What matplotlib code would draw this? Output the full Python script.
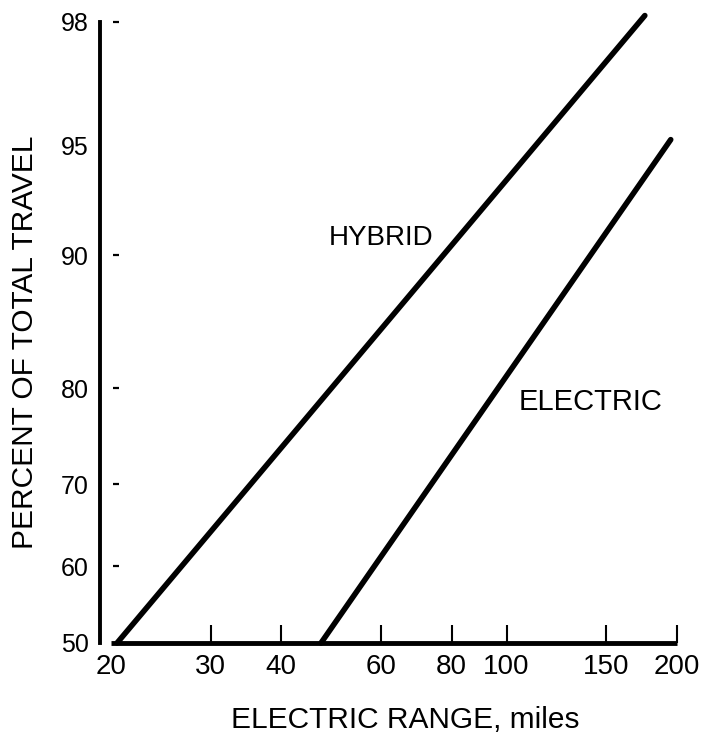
import math
import numpy as np
import matplotlib
matplotlib.use("Agg")
import matplotlib.pyplot as plt
import matplotlib.transforms as mtransforms

plt.rcParams['font.family'] = ['Liberation Sans', 'DejaVu Sans']

# --- data ---
hybrid_range = [20.5, 175.5]
hybrid_pct = [50, 98.1]
electric_range = [47, 195]
electric_pct = [50, 95.2]

x_ticks = [20, 30, 40, 60, 80, 100, 150, 200]
y_ticks = [50, 60, 70, 80, 90, 95, 98]
y_tick_marks = [60, 70, 80, 90, 98]


# --- normal probability scale (no scipy) ---
_erf = np.vectorize(math.erf, otypes=[float])


def cdf_pct(z):
    z = np.asarray(z, dtype=float)
    return 50.0 * (1.0 + _erf(z / math.sqrt(2.0)))


def ppf_pct(p):
    p = np.clip(np.asarray(p, dtype=float), 1e-10, 100 - 1e-10)
    lo = np.full_like(p, -9.0)
    hi = np.full_like(p, 9.0)
    for _ in range(60):
        mid = (lo + hi) / 2
        below = cdf_pct(mid) < p
        lo = np.where(below, mid, lo)
        hi = np.where(below, hi, mid)
    return (lo + hi) / 2


fig = plt.figure(figsize=(7.02, 7.33), dpi=100)
ax = fig.add_axes([0.1581, 0.1228, 0.8396, 0.8651])

ax.set_xscale('log')
ax.set_yscale('function', functions=(ppf_pct, cdf_pct))
ax.set_xlim(20, 220)
ax.set_ylim(50, 98.2)

# --- curves ---
ax.plot(hybrid_range, hybrid_pct, color='black', lw=4,
        solid_capstyle='round', clip_on=False)
ax.plot(electric_range, electric_pct, color='black', lw=4,
        solid_capstyle='round', clip_on=False)

ax.text(60, 91.0, 'HYBRID', fontsize=20, ha='center', va='center')
ax.text(141, 78.7, 'ELECTRIC', fontsize=21, ha='center', va='center')

# --- axes styling ---
for side in ['top', 'right']:
    ax.spines[side].set_visible(False)
ax.spines['bottom'].set_linewidth(3.5)
ax.spines['bottom'].set_bounds(20, 200)
ax.spines['bottom'].set_capstyle('butt')
ax.spines['left'].set_linewidth(2.8)
ax.spines['left'].set_position(('outward', 8))
ax.spines['left'].set_bounds(50, 98)

ax.set_xticks(x_ticks)
ax.set_xticklabels([str(t) for t in x_ticks])
ax.xaxis.set_minor_locator(matplotlib.ticker.NullLocator())
ax.tick_params(axis='x', direction='in', length=13, width=1.5,
               labelsize=20, pad=8)
# no tick mark at the left end (20), the curve starts there
ax.xaxis.get_major_ticks()[0].tick1line.set_visible(False)

ax.set_yticks(y_ticks)
ax.set_yticklabels([str(t) for t in y_ticks])
ax.yaxis.set_minor_locator(matplotlib.ticker.NullLocator())
ax.tick_params(axis='y', length=0, labelsize=18, pad=8)

# small dashes just right of the y axis
trans = mtransforms.blended_transform_factory(ax.transAxes, ax.transData)
ax.plot([0.008] * len(y_tick_marks), y_tick_marks, ls='none', marker='_',
        ms=4.5, mew=1.6, color='black', transform=trans, clip_on=False)

fig.text(25 / 702, 1 - 342 / 733, 'PERCENT OF TOTAL TRAVEL', rotation=90,
         fontsize=21.5, ha='center', va='center')
fig.text(405 / 702, 1 - 720 / 733, 'ELECTRIC RANGE, miles',
         fontsize=21.5, ha='center', va='center')

fig.savefig('out.png', dpi=100)
